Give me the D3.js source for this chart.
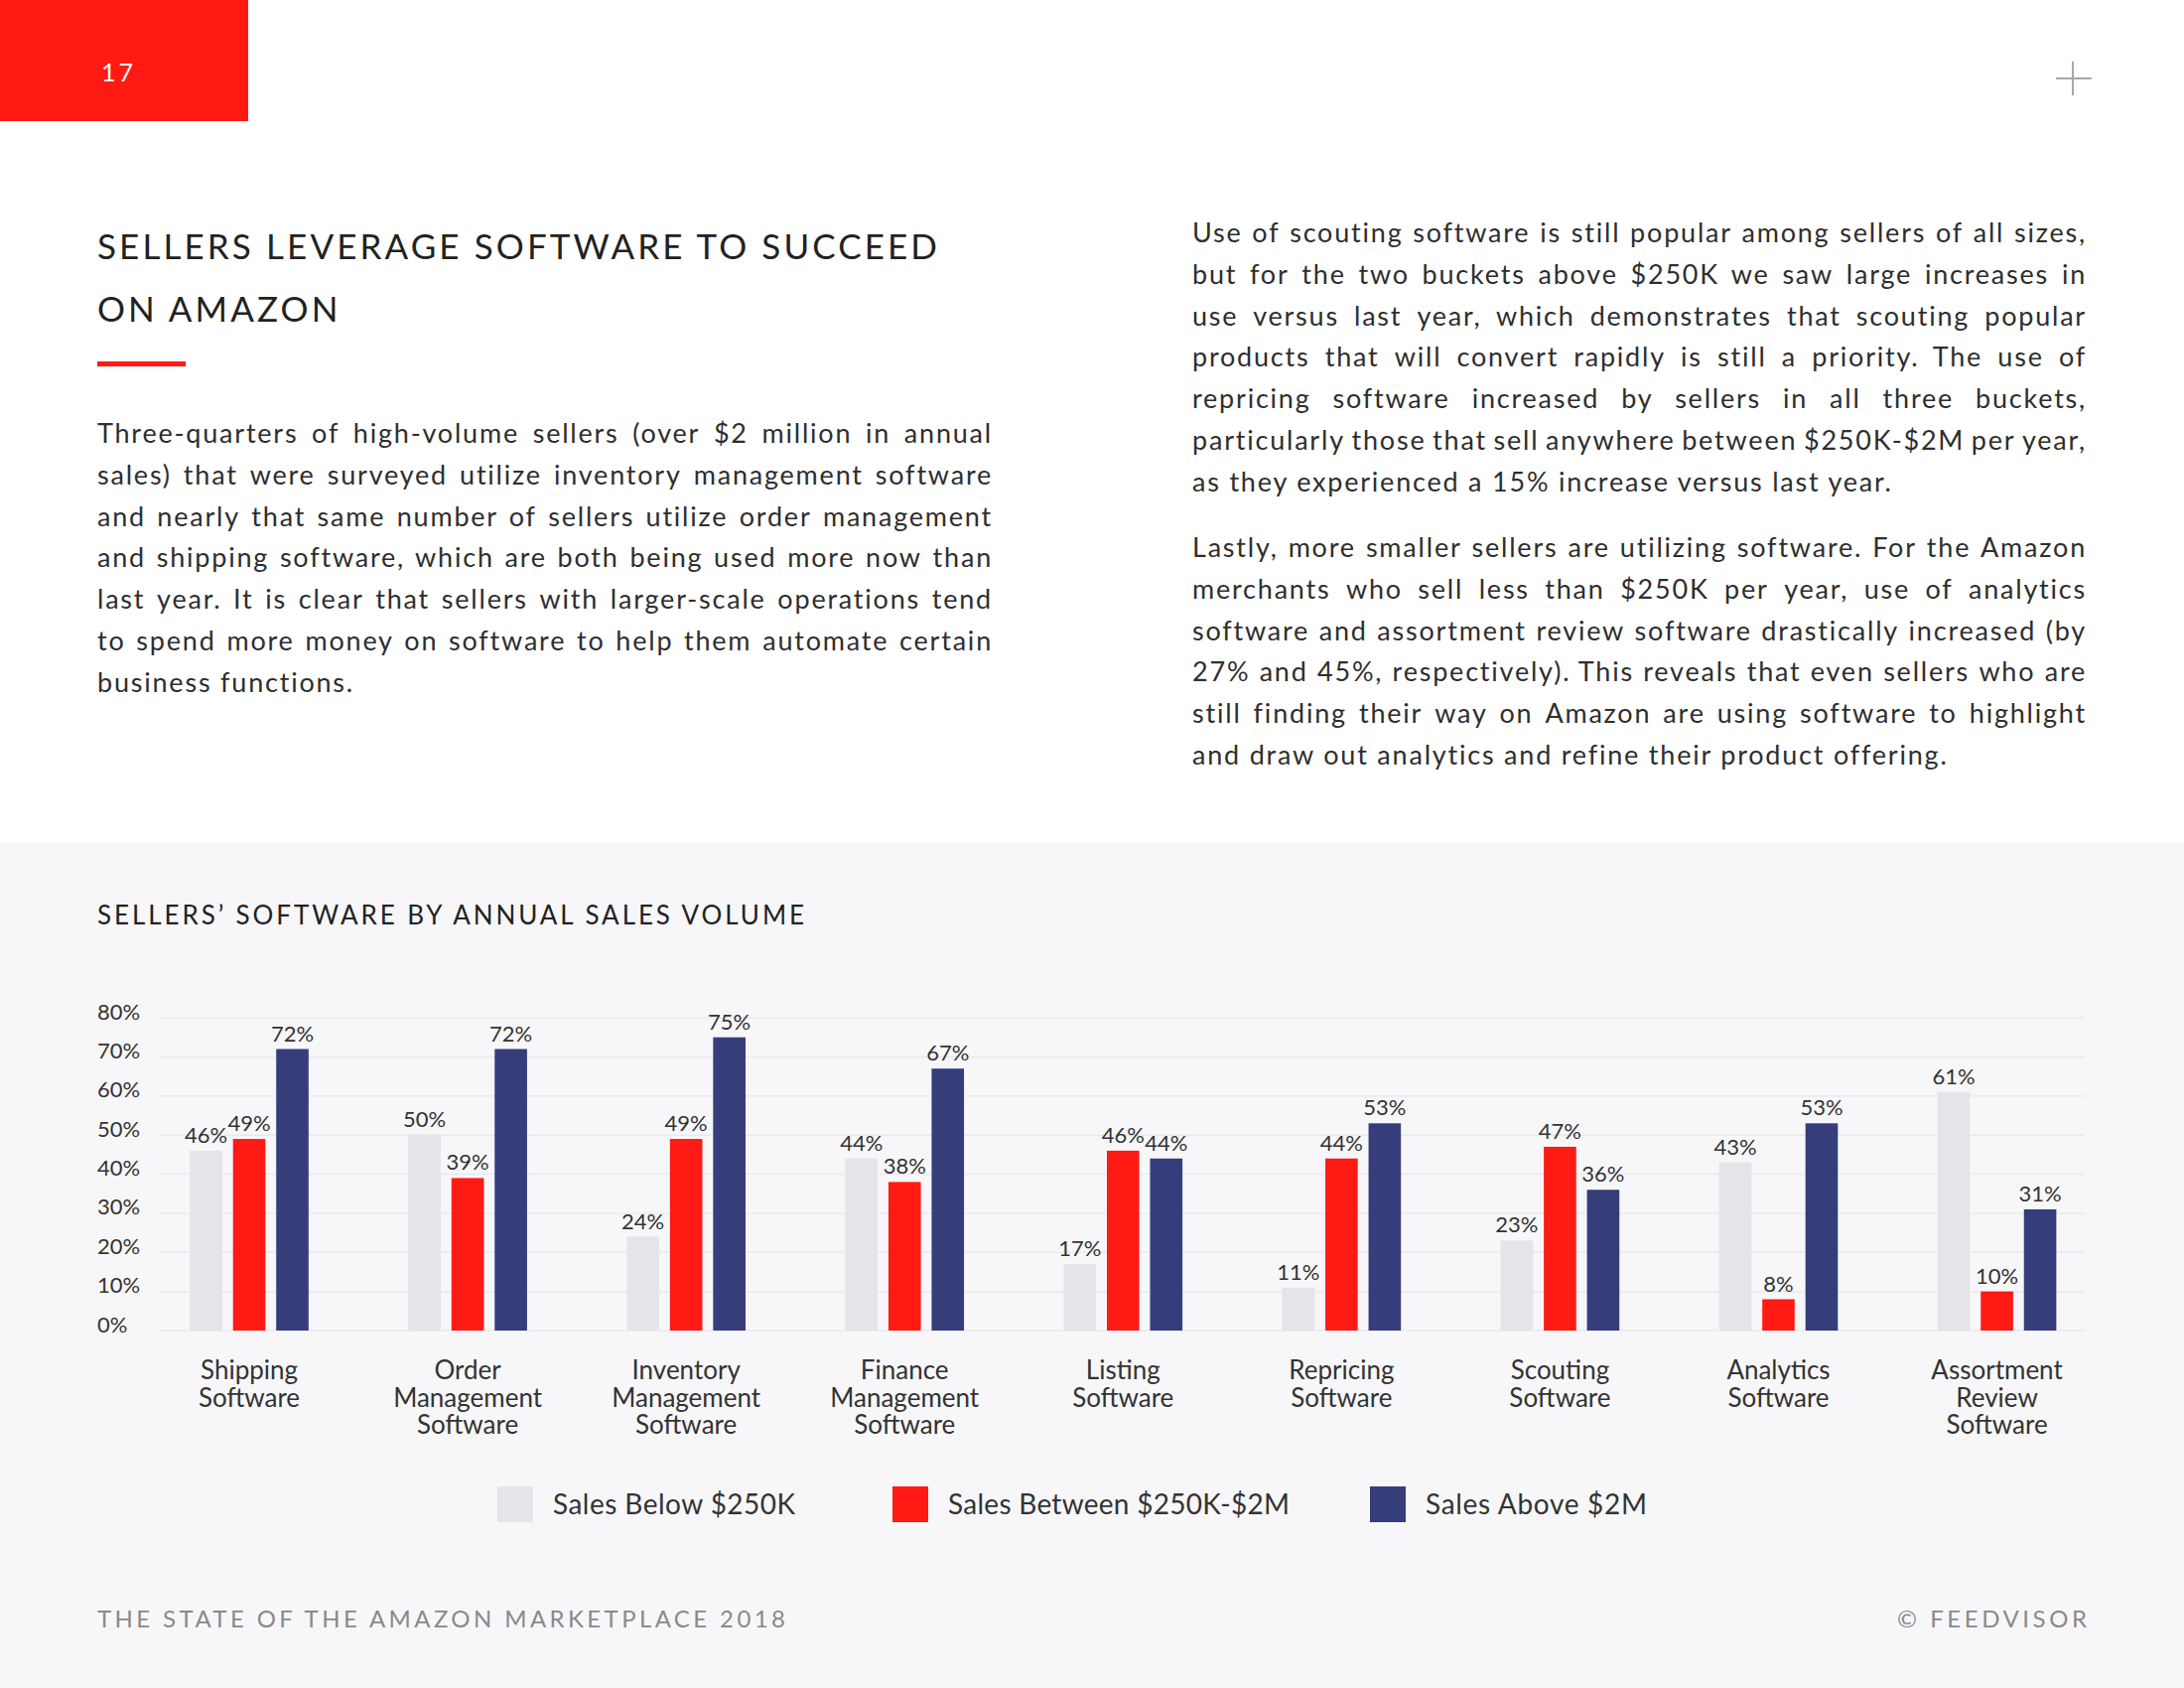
<!DOCTYPE html>
<html>
<head>
<meta charset="utf-8">
<script src="https://cdn.jsdelivr.net/npm/d3@7"></script>
<style>
  html, body { margin: 0; padding: 0; background: #ffffff; }
  svg { display: block; }
  text { font-family: Lato, "Open Sans", sans-serif; }
</style>
</head>
<body>
<svg id="page" width="2200" height="1700"></svg>
<script>
// ---------------- DATA ----------------
const categories = [
  "Shipping Software", "Order Management Software", "Inventory Management Software",
  "Finance Management Software", "Listing Software", "Repricing Software",
  "Scouting Software", "Analytics Software", "Assortment Review Software"
];
const categoryLines = [
  ["Shipping", "Software"], ["Order", "Management", "Software"], ["Inventory", "Management", "Software"],
  ["Finance", "Management", "Software"], ["Listing", "Software"], ["Repricing", "Software"],
  ["Scouting", "Software"], ["Analytics", "Software"], ["Assortment", "Review", "Software"]
];
const seriesNames = ["Sales Below $250K", "Sales Between $250K-$2M", "Sales Above $2M"];
const below250K   = [46, 50, 24, 44, 17, 11, 23, 43, 61];
const between250K = [49, 39, 49, 38, 46, 44, 47, 8, 10];
const above2M     = [72, 72, 75, 67, 44, 53, 36, 53, 31];
const yTicks = [0, 10, 20, 30, 40, 50, 60, 70, 80];

const titleLines = ["SELLERS LEVERAGE SOFTWARE TO SUCCEED", "ON AMAZON"];
const leftParagraph = [
  "Three-quarters of high-volume sellers (over $2 million in annual",
  "sales) that were surveyed utilize inventory management software",
  "and nearly that same number of sellers utilize order management",
  "and shipping software, which are both being used more now than",
  "last year. It is clear that sellers with larger-scale operations tend",
  "to spend more money on software to help them automate certain",
  "business functions."
];
const rightParagraph1 = [
  "Use of scouting software is still popular among sellers of all sizes,",
  "but for the two buckets above $250K we saw large increases in",
  "use versus last year, which demonstrates that scouting popular",
  "products that will convert rapidly is still a priority. The use of",
  "repricing software increased by sellers in all three buckets,",
  "particularly those that sell anywhere between $250K-$2M per year,",
  "as they experienced a 15% increase versus last year."
];
const rightParagraph2 = [
  "Lastly, more smaller sellers are utilizing software. For the Amazon",
  "merchants who sell less than $250K per year, use of analytics",
  "software and assortment review software drastically increased (by",
  "27% and 45%, respectively). This reveals that even sellers who are",
  "still finding their way on Amazon are using software to highlight",
  "and draw out analytics and refine their product offering."
];

// ---------------- STYLE ----------------
const RED = "#ff1a14", NAVY = "#363d7b", LIGHT = "#e4e4e9";
const seriesColors = [LIGHT, RED, NAVY];
const TEXT = "#2e2e2e";
const BODY_SIZE = 27;

const svg = d3.select("#page");

// helper: fit text to a width via letter-spacing
function fitWidth(sel, target) {
  sel.each(function () {
    const t = d3.select(this);
    const s = t.text();
    const w = this.getComputedTextLength();
    const ls = (target - w) / Math.max(1, s.length - 1);
    t.attr("letter-spacing", ls);
  });
}

// body letter-spacing chosen so an unjustified line has the reference width
const probe = svg.append("text").attr("font-size", BODY_SIZE).text(rightParagraph1[6]);
const probeW = probe.node().getComputedTextLength();
const BODY_LS = (704 - probeW) / (rightParagraph1[6].length - 1);
probe.remove();

// helper: justified paragraph
function paragraph(lines, x0, width, y0, lh) {
  const g = svg.append("g");
  lines.forEach((line, i) => {
    const yy = y0 + i * lh;
    const t = g.append("text").attr("y", yy).attr("font-size", BODY_SIZE)
      .attr("letter-spacing", BODY_LS).attr("fill", TEXT);
    if (i === lines.length - 1) {
      t.attr("x", x0).text(line);
      return;
    }
    const words = line.split(" ");
    const spans = words.map(w => t.append("tspan").text(w));
    const widths = spans.map(s => s.node().getComputedTextLength());
    const total = d3.sum(widths);
    const gap = (width - total) / (words.length - 1);
    let xx = x0;
    spans.forEach((s, j) => { s.attr("x", xx); xx += widths[j] + gap; });
  });
}

// ---------------- HEADER ----------------
svg.append("rect").attr("x", 0).attr("y", 0).attr("width", 2200).attr("height", 849).attr("fill", "#ffffff");
svg.append("rect").attr("x", 0).attr("y", 0).attr("width", 250).attr("height", 122).attr("fill", RED);
svg.append("text").attr("x", 102).attr("y", 82).attr("font-size", 25).attr("fill", "#fff")
  .attr("letter-spacing", 3).text("17");
// plus mark
svg.append("line").attr("x1", 2088).attr("x2", 2088).attr("y1", 62).attr("y2", 96)
  .attr("stroke", "#a8a8a8").attr("stroke-width", 2);
svg.append("line").attr("x1", 2071).attr("x2", 2107).attr("y1", 79).attr("y2", 79)
  .attr("stroke", "#a8a8a8").attr("stroke-width", 2);

// title
const t1 = svg.append("text").attr("x", 98).attr("y", 261).attr("font-size", 35).attr("fill", "#222")
  .text(titleLines[0]);
fitWidth(t1, 846);
svg.append("text").attr("x", 98).attr("y", 324).attr("font-size", 35).attr("fill", "#222")
  .attr("letter-spacing", t1.attr("letter-spacing")).text(titleLines[1]);
svg.append("rect").attr("x", 98).attr("y", 364).attr("width", 89).attr("height", 5).attr("fill", RED);

paragraph(leftParagraph, 98, 902, 446, 41.8);
paragraph(rightParagraph1, 1201, 901, 244, 41.8);
paragraph(rightParagraph2, 1201, 901, 561, 41.8);

// ---------------- CHART PANEL ----------------
svg.append("rect").attr("x", 0).attr("y", 849).attr("width", 2200).attr("height", 851).attr("fill", "#f7f7f9");

const ct = svg.append("text").attr("x", 98).attr("y", 931).attr("font-size", 26).attr("fill", "#222")
  .text("SELLERS\u2019 SOFTWARE BY ANNUAL SALES VOLUME");
fitWidth(ct, 712);

const x = d3.scaleBand().domain(categories).range([141, 2121.6]).paddingInner(0).paddingOuter(0);
const xs = d3.scaleBand().domain(seriesNames).range([-65.25, 65.25]).paddingInner(0.25).paddingOuter(0.125);
const y = d3.scaleLinear().domain([0, 80]).range([1340, 1025]);

// gridlines
svg.append("g").selectAll("line").data(yTicks).join("line")
  .attr("x1", 160).attr("x2", 2100)
  .attr("y1", d => y(d)).attr("y2", d => y(d))
  .attr("stroke", "#eaeaee").attr("stroke-width", 1.5);

// y axis labels
const yAxis = d3.axisLeft(y).tickValues(yTicks).tickFormat(d => d + "%").tickSize(0);
const yg = svg.append("g").attr("transform", "translate(98,0)").call(yAxis);
yg.select(".domain").remove();
yg.selectAll("text").attr("x", 0).attr("dy", "0.05em").attr("text-anchor", "start")
  .attr("font-size", 22).attr("font-family", "Lato, sans-serif").attr("fill", "#333");

// bars
const seriesData = [below250K, between250K, above2M];
const rows = [];
categories.forEach((c, i) => {
  seriesNames.forEach((s, k) => rows.push({ cat: c, series: s, k, value: seriesData[k][i] }));
});
const center = c => x(c) + x.bandwidth() / 2;

svg.append("g").selectAll("rect").data(rows).join("rect")
  .attr("x", d => center(d.cat) + xs(d.series))
  .attr("width", xs.bandwidth())
  .attr("y", d => y(d.value))
  .attr("height", d => y(0) - y(d.value))
  .attr("fill", d => seriesColors[d.k]);

svg.append("g").selectAll("text").data(rows).join("text")
  .attr("x", d => center(d.cat) + xs(d.series) + xs.bandwidth() / 2)
  .attr("y", d => y(d.value) - 8)
  .attr("text-anchor", "middle")
  .attr("font-size", 22).attr("fill", "#333")
  .text(d => d.value + "%");

// category labels
const cl = svg.append("g").selectAll("text").data(categories).join("text")
  .attr("x", d => center(d)).attr("y", 1389)
  .attr("text-anchor", "middle").attr("font-size", 26).attr("fill", "#333");
cl.each(function (d, i) {
  const t = d3.select(this);
  categoryLines[i].forEach((ln, j) => {
    t.append("tspan").attr("x", center(d)).attr("y", 1389 + j * 27.5).text(ln);
  });
});

// legend
const legendX = [501, 899, 1380];
const legendW = [244, 344, 223];
const lg = svg.append("g").selectAll("g").data(seriesNames).join("g");
lg.append("rect").attr("x", (d, i) => legendX[i]).attr("y", 1497).attr("width", 36).attr("height", 36)
  .attr("fill", (d, i) => seriesColors[i]);
lg.append("text").attr("x", (d, i) => legendX[i] + 56).attr("y", 1525)
  .attr("font-size", 28).attr("fill", "#333").text(d => d)
  .each(function (d, i) { fitWidth(d3.select(this), legendW[i]); });

// footer
const f1 = svg.append("text").attr("x", 98).attr("y", 1639).attr("font-size", 24).attr("fill", "#8a8a8a")
  .text("THE STATE OF THE AMAZON MARKETPLACE 2018");
fitWidth(f1, 693);
const f2 = svg.append("text").attr("x", 1911).attr("y", 1639).attr("font-size", 24).attr("fill", "#8a8a8a")
  .text("\u00A9 FEEDVISOR");
fitWidth(f2, 191);
</script>
</body>
</html>
